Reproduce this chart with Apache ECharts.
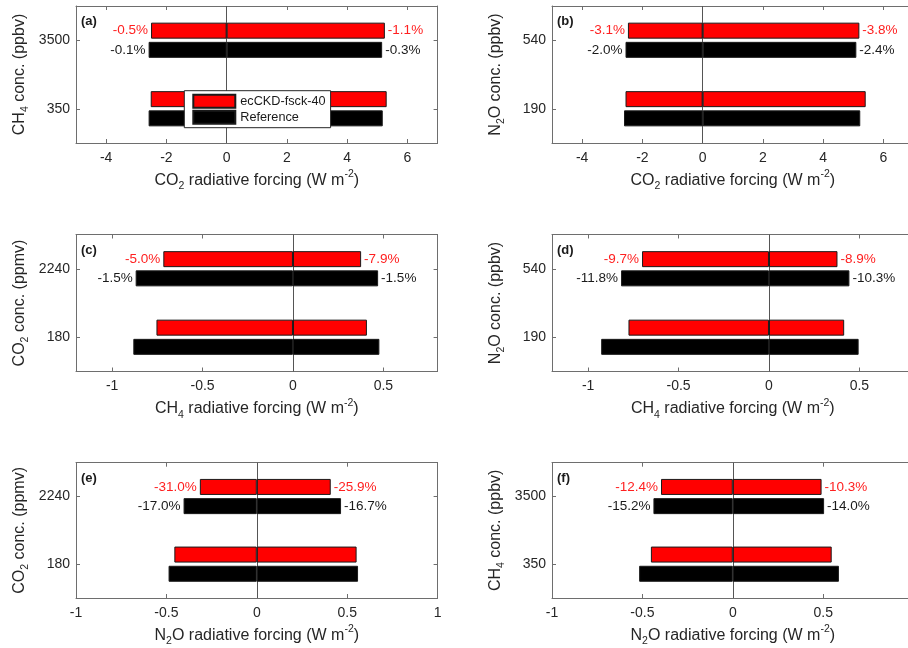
<!DOCTYPE html>
<html>
<head>
<meta charset="utf-8">
<script src="https://cdn.jsdelivr.net/npm/echarts@6/dist/echarts.min.js"></script>
<style>
  html, body { margin: 0; padding: 0; background: #fff; overflow: hidden; width: 908px; height: 648px; }
  /* the right-hand column of panels runs slightly past the page edge */
  #chart { width: 930px; height: 648px; }
</style>
</head>
<body>
<div id="chart"></div>
<script>
// Overlap of radiative forcing between gas pairs: each bar spans the forcing
// from halving (negative end) to quadrupling (positive end) the first gas,
// shown at a low and a high concentration of the second gas.

// (a) CO2 forcing vs CH4 concentration
const catsA = ['350', '3500'];
const ecNegA = [-2.52, -2.51];
const ecPosA = [5.31, 5.25];
const refNegA = [-2.59, -2.59];
const refPosA = [5.18, 5.16];
const ecPctA = ['-0.5%', '-1.1%'];
const refPctA = ['-0.1%', '-0.3%'];

// (b) CO2 forcing vs N2O concentration
const catsB = ['190', '540'];
const ecNegB = [-2.56, -2.48];
const ecPosB = [5.41, 5.20];
const refNegB = [-2.61, -2.56];
const refPosB = [5.23, 5.10];
const ecPctB = ['-3.1%', '-3.8%'];
const refPctB = ['-2.0%', '-2.4%'];

// (c) CH4 forcing vs CO2 concentration
const catsC = ['180', '2240'];
const ecNegC = [-0.755, -0.717];
const ecPosC = [0.409, 0.377];
const refNegC = [-0.883, -0.870];
const refPosC = [0.478, 0.471];
const ecPctC = ['-5.0%', '-7.9%'];
const refPctC = ['-1.5%', '-1.5%'];

// (d) CH4 forcing vs N2O concentration
const catsD = ['190', '540'];
const ecNegD = [-0.777, -0.702];
const ecPosD = [0.416, 0.379];
const refNegD = [-0.928, -0.818];
const refPosD = [0.496, 0.445];
const ecPctD = ['-9.7%', '-8.9%'];
const refPctD = ['-11.8%', '-10.3%'];

// (e) N2O forcing vs CO2 concentration
const catsE = ['180', '2240'];
const ecNegE = [-0.456, -0.315];
const ecPosE = [0.552, 0.409];
const refNegE = [-0.488, -0.405];
const refPosE = [0.560, 0.466];
const ecPctE = ['-31.0%', '-25.9%'];
const refPctE = ['-17.0%', '-16.7%'];

// (f) N2O forcing vs CH4 concentration
const catsF = ['350', '3500'];
const ecNegF = [-0.453, -0.397];
const ecPosF = [0.547, 0.491];
const refNegF = [-0.518, -0.439];
const refPosF = [0.587, 0.505];
const ecPctF = ['-12.4%', '-10.3%'];
const refPctF = ['-15.2%', '-14.0%'];

// Axis tick values
const ticksCO2 = [-4, -2, 0, 2, 4, 6];
const ticksCH4 = [-1, -0.5, 0, 0.5];
const ticksN2O = [-1, -0.5, 0, 0.5, 1];

const SERIES_EC = 'ecCKD-fsck-40';
const SERIES_REF = 'Reference';

const FONT = '"Liberation Sans", Arial, Helvetica, sans-serif';
const AXIS_COLOR = '#6e6e6e';
const TEXT_COLOR = '#262626';

const panels = [
  { tag: '(a)', cats: catsA, ecNeg: ecNegA, ecPos: ecPosA, refNeg: refNegA, refPos: refPosA, ecPct: ecPctA, refPct: refPctA,
    xName: 'CO{s|2} radiative forcing (W m{p|-2})', yName: 'CH{s|4} conc. (ppbv)', min: -5, max: 7, ticks: ticksCO2 },
  { tag: '(b)', cats: catsB, ecNeg: ecNegB, ecPos: ecPosB, refNeg: refNegB, refPos: refPosB, ecPct: ecPctB, refPct: refPctB,
    xName: 'CO{s|2} radiative forcing (W m{p|-2})', yName: 'N{s|2}O conc. (ppbv)', min: -5, max: 7, ticks: ticksCO2 },
  { tag: '(c)', cats: catsC, ecNeg: ecNegC, ecPos: ecPosC, refNeg: refNegC, refPos: refPosC, ecPct: ecPctC, refPct: refPctC,
    xName: 'CH{s|4} radiative forcing (W m{p|-2})', yName: 'CO{s|2} conc. (ppmv)', min: -1.2, max: 0.8, ticks: ticksCH4 },
  { tag: '(d)', cats: catsD, ecNeg: ecNegD, ecPos: ecPosD, refNeg: refNegD, refPos: refPosD, ecPct: ecPctD, refPct: refPctD,
    xName: 'CH{s|4} radiative forcing (W m{p|-2})', yName: 'N{s|2}O conc. (ppbv)', min: -1.2, max: 0.8, ticks: ticksCH4 },
  { tag: '(e)', cats: catsE, ecNeg: ecNegE, ecPos: ecPosE, refNeg: refNegE, refPos: refPosE, ecPct: ecPctE, refPct: refPctE,
    xName: 'N{s|2}O radiative forcing (W m{p|-2})', yName: 'CO{s|2} conc. (ppmv)', min: -1, max: 1, ticks: ticksN2O },
  { tag: '(f)', cats: catsF, ecNeg: ecNegF, ecPos: ecPosF, refNeg: refNegF, refPos: refPosF, ecPct: ecPctF, refPct: refPctF,
    xName: 'N{s|2}O radiative forcing (W m{p|-2})', yName: 'CH{s|4} conc. (ppbv)', min: -1, max: 1, ticks: ticksN2O }
];

// Panel frames
const colLeft = [76, 552];
const rowTop = [6, 234.5, 462.7];
const plotW = 361.6;
const plotH = 137;

const richName = {
  s: { fontSize: 10.5, verticalAlign: 'bottom', lineHeight: 10, fontFamily: FONT, color: TEXT_COLOR },
  p: { fontSize: 10.5, verticalAlign: 'top', lineHeight: 10, fontFamily: FONT, color: TEXT_COLOR }
};

const grids = [], xAxes = [], yAxes = [], series = [], graphics = [];

panels.forEach((pn, i) => {
  const gl = colLeft[i % 2];
  const gt = rowTop[Math.floor(i / 2)];
  grids.push({ left: gl, top: gt, width: plotW, height: plotH, containLabel: false });

  const fmt = v => String(v);
  // bottom axis with labels
  xAxes.push({
    type: 'value', gridIndex: i, position: 'bottom', min: pn.min, max: pn.max,
    axisLine: { show: true, onZero: false, lineStyle: { color: AXIS_COLOR, width: 1 } },
    axisTick: { show: true, inside: true, length: 4, customValues: pn.ticks, lineStyle: { color: AXIS_COLOR } },
    axisLabel: { show: true, customValues: pn.ticks, formatter: fmt, margin: 8, fontSize: 14, color: TEXT_COLOR, fontFamily: FONT },
    splitLine: { show: false },
    name: pn.xName, nameLocation: 'middle', nameGap: 26,
    nameTextStyle: { fontSize: 16, color: TEXT_COLOR, fontFamily: FONT, lineHeight: 23, rich: richName }
  });
  // top mirror
  xAxes.push({
    type: 'value', gridIndex: i, position: 'top', min: pn.min, max: pn.max,
    axisLine: { show: true, onZero: false, lineStyle: { color: AXIS_COLOR, width: 1 } },
    axisTick: { show: true, inside: true, length: 4, customValues: pn.ticks, lineStyle: { color: AXIS_COLOR } },
    axisLabel: { show: false },
    splitLine: { show: false }
  });
  // left category axis
  yAxes.push({
    type: 'category', gridIndex: i, position: 'left', data: pn.cats,
    axisLine: { show: true, onZero: false, lineStyle: { color: AXIS_COLOR, width: 1 } },
    axisTick: { show: true, inside: true, length: 4, alignWithLabel: true, lineStyle: { color: AXIS_COLOR } },
    axisLabel: { show: true, margin: 6, fontSize: 14, color: TEXT_COLOR, fontFamily: FONT },
    splitLine: { show: false },
    name: pn.yName, nameLocation: 'middle', nameRotate: 90, nameGap: 45,
    nameTextStyle: { fontSize: 16, color: TEXT_COLOR, fontFamily: FONT, lineHeight: 23, rich: richName }
  });
  // right mirror
  yAxes.push({
    type: 'category', gridIndex: i, position: 'right', data: pn.cats,
    axisLine: { show: true, onZero: false, lineStyle: { color: AXIS_COLOR, width: 1 } },
    axisTick: { show: true, inside: true, length: 4, alignWithLabel: true, lineStyle: { color: AXIS_COLOR } },
    axisLabel: { show: false },
    splitLine: { show: false }
  });

  const xi = 2 * i, yi = 2 * i;

  // zero line beneath the bars
  series.push({
    type: 'line', xAxisIndex: xi, yAxisIndex: yi, data: [], z: 1, silent: true,
    markLine: {
      silent: true, z: 1, symbol: ['none', 'none'], label: { show: false },
      lineStyle: { color: '#555555', width: 1, type: 'solid' },
      data: [{ xAxis: 0 }]
    }
  });

  function bar(name, stack, data, fill, textColor, pct, side) {
    return {
      type: 'bar', name: name, xAxisIndex: xi, yAxisIndex: yi, stack: stack, data: data,
      barWidth: 16, barGap: '20%', z: 3, silent: true,
      itemStyle: { color: fill, borderColor: '#1a1a1a', borderWidth: 1 },
      label: {
        show: true, position: side, distance: 3, color: textColor, fontSize: 13.5, fontFamily: FONT,
        formatter: p => (p.dataIndex === 1 ? pct : '')
      }
    };
  }
  series.push(bar(SERIES_EC, 'ec' + i, pn.ecNeg, '#ff0000', '#ff2020', pn.ecPct[0], 'left'));
  series.push(bar(SERIES_EC, 'ec' + i, pn.ecPos, '#ff0000', '#ff2020', pn.ecPct[1], 'right'));
  series.push(bar(SERIES_REF, 'ref' + i, pn.refNeg, '#000000', '#1a1a1a', pn.refPct[0], 'left'));
  series.push(bar(SERIES_REF, 'ref' + i, pn.refPos, '#000000', '#1a1a1a', pn.refPct[1], 'right'));

  graphics.push({
    type: 'text', left: gl + 5, top: gt + 9, z: 20,
    style: { text: pn.tag, fontSize: 13, fontWeight: 'bold', fontFamily: FONT, fill: '#1a1a1a' }
  });
});

const chart = echarts.init(document.getElementById('chart'), null, { renderer: 'canvas' });
chart.setOption({
  animation: false,
  backgroundColor: '#ffffff',
  textStyle: { fontFamily: FONT },
  grid: grids,
  xAxis: xAxes,
  yAxis: yAxes,
  series: series,
  legend: {
    show: true, orient: 'vertical', left: 184.3, top: 90.7, z: 10,
    data: [SERIES_EC, SERIES_REF], selectedMode: false, icon: 'rect',
    itemWidth: 42, itemHeight: 13, itemGap: 1,
    padding: [3, 5, 3, 8],
    backgroundColor: '#ffffff', borderColor: '#262626', borderWidth: 1, borderRadius: 0,
    textStyle: { fontSize: 12.7, color: '#1a1a1a', fontFamily: FONT }
  },
  graphic: graphics
});
</script>
</body>
</html>
